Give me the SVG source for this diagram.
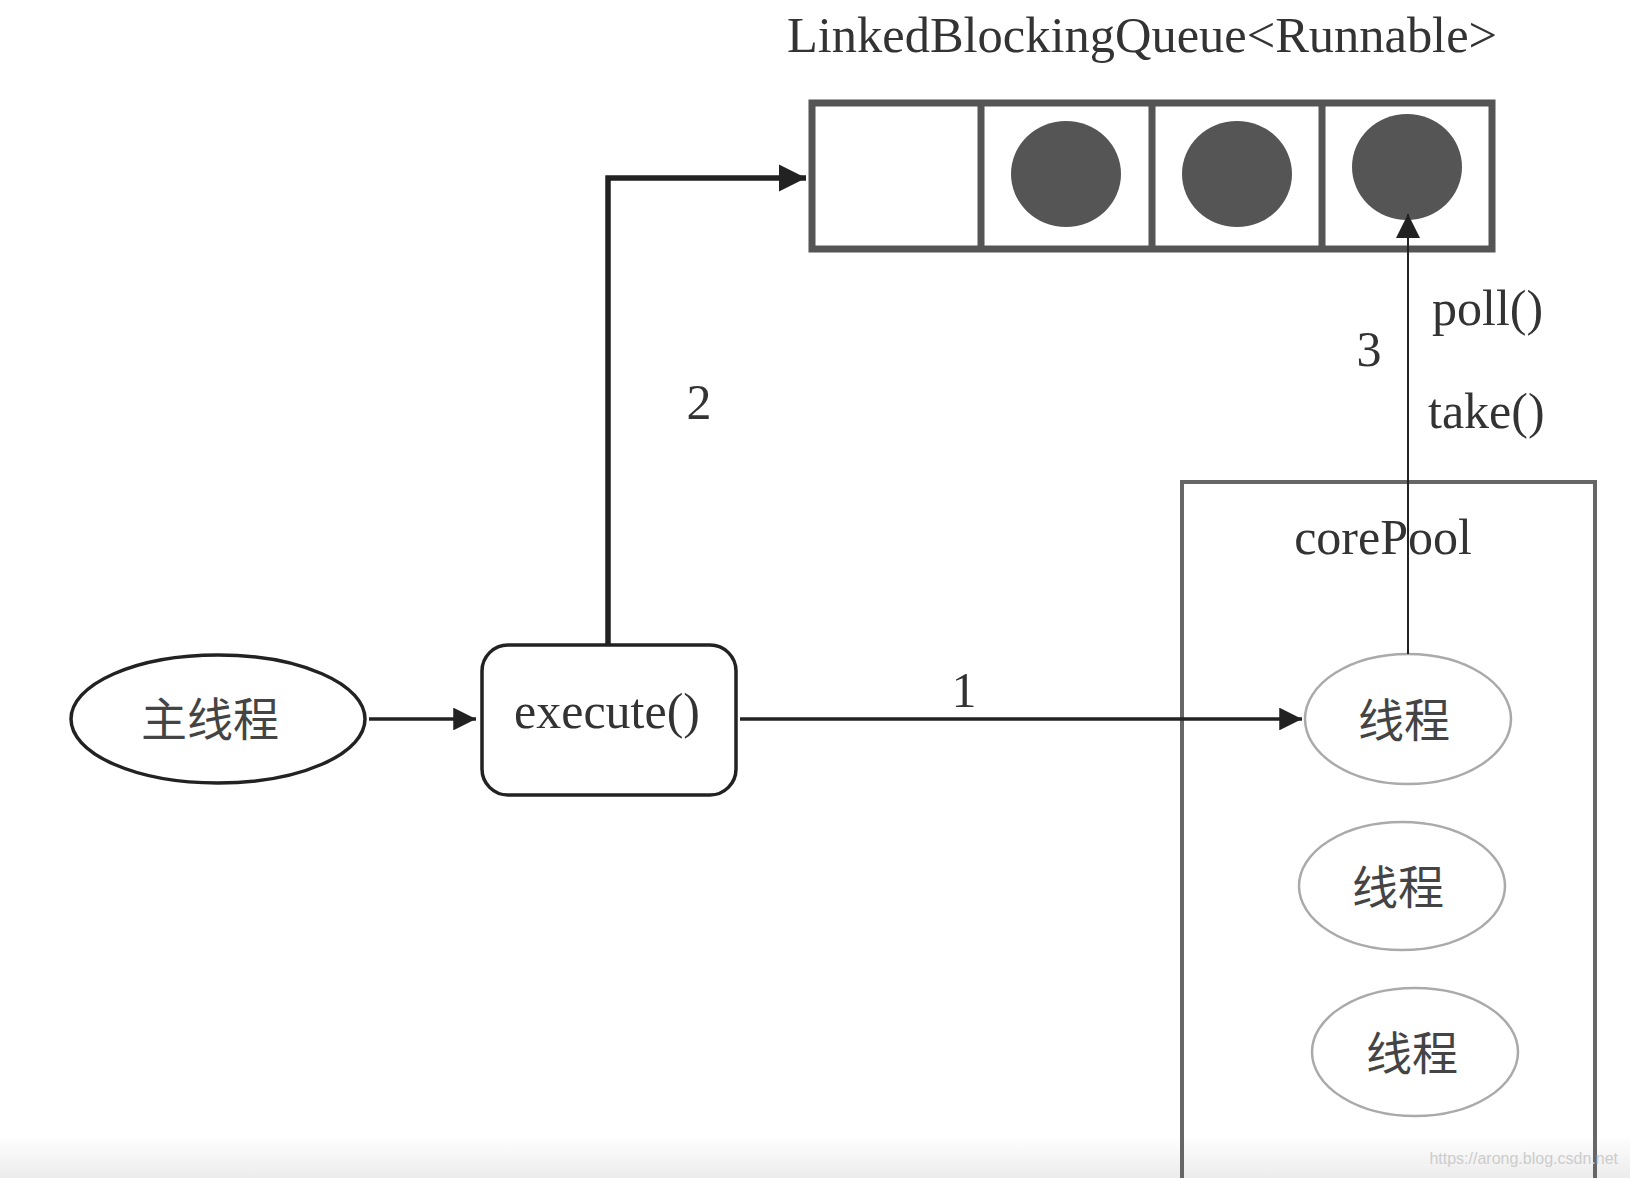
<svg xmlns="http://www.w3.org/2000/svg" width="1630" height="1178" viewBox="0 0 1630 1178">
<style>
.t{font-family:"Liberation Serif","Noto Sans CJK SC",serif;fill:#333;font-size:50px}
.c{font-family:"Noto Sans CJK SC",sans-serif;fill:#444;font-size:46px;text-anchor:middle}
.thread{fill:#fff;stroke:#aaa;stroke-width:2.5}
.cell{fill:#fff;stroke:#555;stroke-width:7}
.dot{fill:#555}
.conn{fill:none;stroke:#222}
</style>
<defs>
<marker id="ah" viewBox="0 0 10 10" refX="10" refY="5" markerWidth="6.5" markerHeight="6.5" markerUnits="strokeWidth" orient="auto"><path d="M0,0 L10,5 L0,10 z" fill="#222"/></marker>
<marker id="ah2" viewBox="0 0 10 10" refX="10" refY="5" markerWidth="5" markerHeight="5" markerUnits="strokeWidth" orient="auto"><path d="M0,0 L10,5 L0,10 z" fill="#222"/></marker>
<marker id="ah3" viewBox="0 0 10 10" refX="10" refY="5" markerWidth="12" markerHeight="12" markerUnits="strokeWidth" orient="auto"><path d="M0,0 L10,5 L0,10 z" fill="#222"/></marker>
<linearGradient id="bg" x1="0" y1="0" x2="0" y2="1"><stop offset="0" stop-color="#fff"/><stop offset="1" stop-color="#ececec"/></linearGradient>
</defs>
<rect width="1630" height="1178" fill="#fff"/>
<rect x="0" y="1135" width="1630" height="43" fill="url(#bg)"/>

<g id="queue">
<text class="t" x="787" y="52" textLength="710" lengthAdjust="spacingAndGlyphs">LinkedBlockingQueue&lt;Runnable&gt;</text>
<rect class="cell" x="812" y="103" width="680" height="146"/>
<line x1="981" y1="103" x2="981" y2="249" stroke="#555" stroke-width="7"/>
<line x1="1152" y1="103" x2="1152" y2="249" stroke="#555" stroke-width="7"/>
<line x1="1322" y1="103" x2="1322" y2="249" stroke="#555" stroke-width="7"/>
<ellipse class="dot" cx="1066" cy="174" rx="55" ry="53"/>
<ellipse class="dot" cx="1237" cy="174" rx="55" ry="53"/>
<ellipse class="dot" cx="1407" cy="167" rx="55" ry="53"/>
</g>

<g id="corePool">
<rect x="1182" y="482" width="413" height="720" fill="none" stroke="#666" stroke-width="4"/>
<text class="t" x="1383" y="554" text-anchor="middle">corePool</text>
</g>

<g id="main">
<ellipse cx="218" cy="719" rx="147" ry="64" fill="#fff" stroke="#222" stroke-width="3.5"/>
<text class="c" x="210" y="736">主线程</text>
</g>

<g id="execute">
<rect x="482" y="645" width="254" height="150" rx="26" fill="#fff" stroke="#222" stroke-width="3.5"/>
<text class="t" x="607" y="728" text-anchor="middle">execute()</text>
</g>

<g id="thread1">
<ellipse class="thread" cx="1408" cy="719" rx="103" ry="65"/>
<text class="c" x="1404" y="737">线程</text>
</g>
<g id="thread2">
<ellipse class="thread" cx="1402" cy="886" rx="103" ry="64"/>
<text class="c" x="1398" y="904">线程</text>
</g>
<g id="thread3">
<ellipse class="thread" cx="1415" cy="1052" rx="103" ry="64"/>
<text class="c" x="1412" y="1070">线程</text>
</g>

<g id="connectors">
<line class="conn" x1="369" y1="719" x2="476" y2="719" stroke-width="3.5" marker-end="url(#ah)"/>
<line class="conn" x1="740" y1="719" x2="1302" y2="719" stroke-width="3.5" marker-end="url(#ah)"/>
<polyline class="conn" points="608,644 608,178 806,178" stroke-width="5.5" marker-end="url(#ah2)"/>
<line class="conn" x1="1408" y1="654" x2="1408" y2="214" stroke="#777" stroke-width="2" marker-end="url(#ah3)"/>
<text class="t" x="964" y="707" text-anchor="middle">1</text>
<text class="t" x="699" y="419" text-anchor="middle">2</text>
<text class="t" x="1369" y="366" text-anchor="middle">3</text>
<text class="t" x="1432" y="325">poll()</text>
<text class="t" x="1428" y="428">take()</text>
</g>

<text x="1618" y="1164" text-anchor="end" font-family="Liberation Sans,sans-serif" font-size="16" fill="#ccc">https://arong.blog.csdn.net</text>
</svg>
